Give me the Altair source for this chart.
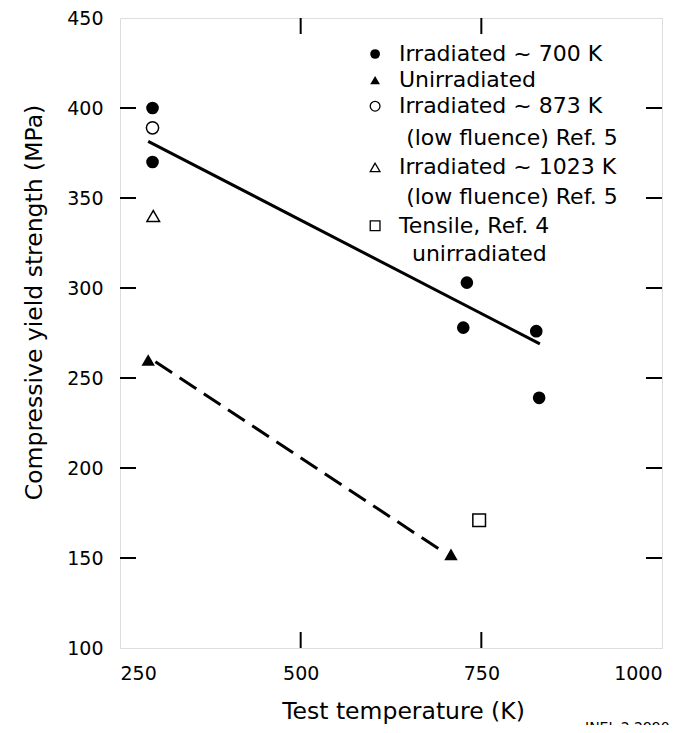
import altair as alt
import pandas as pd

# ---- data ----
irr700_temp = [295, 295, 725, 730, 826, 830]
irr700_mpa = [400, 370, 278, 303, 276, 239]
unirr_temp = [289, 708]
unirr_mpa = [260, 152]
irr873_temp = [295]
irr873_mpa = [389]
irr1023_temp = [296]
irr1023_mpa = [340]
tensile_temp = [747]
tensile_mpa = [171]
fit_irr_temp = [289, 831]
fit_irr_mpa = [381.5, 269]
fit_unirr_temp = [299, 695]
fit_unirr_mpa = [259, 154]

x_tick_labels = [250, 500, 750, 1000]
y_tick_labels = [100, 150, 200, 250, 300, 350, 400, 450]
x_inner_ticks = [500, 750]
y_inner_ticks = [150, 200, 250, 300, 350, 400]

legend_labels = ["Irradiated ~ 700 K", "Unirradiated", "Irradiated ~ 873 K",
                 "(low fluence) Ref. 5", "Irradiated ~ 1023 K", "(low fluence) Ref. 5",
                 "Tensile, Ref. 4", "unirradiated"]
legend_text_temp = [636, 636, 636, 646, 636, 646, 636, 654]
legend_row_mpa = [430.0, 415.5, 401.0, 383.2, 367.0, 350.3, 334.6, 319.0]
legend_sym_temp = 603
legend_sym_rows = [0, 1, 2, 4, 6]
legend_sym_shapes = ["circle", "triangle-up", "circle", "triangle-up", "square"]
legend_sym_filled = [True, True, False, False, False]

W, H = 542, 630
FONT = "DejaVu Sans"

xs = alt.Scale(domain=[250, 1000], nice=False, zero=False)
ys = alt.Scale(domain=[100, 450], nice=False, zero=False)

x_axis = alt.Axis(values=x_tick_labels, format="d", ticks=False, tickSize=0, domain=False, grid=False,
                  labelFont=FONT, labelFontSize=19, labelColor="black", labelPadding=16,
                  title="Test temperature (K)", titleFont=FONT, titleFontSize=23.5,
                  titleFontWeight="normal", titleColor="black", titlePadding=16, titleX=283)
y_axis = alt.Axis(values=y_tick_labels, ticks=False, tickSize=0, domain=False, grid=False,
                  labelFont=FONT, labelFontSize=19, labelColor="black", labelPadding=17,
                  title="Compressive yield strength (MPa)", titleFont=FONT, titleFontSize=23.5,
                  titleFontWeight="normal", titleColor="black", titlePadding=20, titleY=284)


def pts(temp, mpa):
    return pd.DataFrame({"T": temp, "S": mpa})


def enc(chart, axes=False):
    if axes:
        return chart.encode(x=alt.X("T:Q", scale=xs, axis=x_axis), y=alt.Y("S:Q", scale=ys, axis=y_axis))
    return chart.encode(x=alt.X("T:Q", scale=xs), y=alt.Y("S:Q", scale=ys))


layers = []

# fitted lines
layers.append(enc(alt.Chart(pts(fit_irr_temp, fit_irr_mpa)).mark_line(color="black", strokeWidth=3), axes=True))
layers.append(enc(alt.Chart(pts(fit_unirr_temp, fit_unirr_mpa)).mark_line(
    color="black", strokeWidth=3, strokeDash=[20, 9])))

# data points
layers.append(enc(alt.Chart(pts(irr700_temp, irr700_mpa)).mark_point(
    shape="circle", filled=True, size=160, color="black", opacity=1)))
layers.append(enc(alt.Chart(pts(unirr_temp, unirr_mpa)).mark_point(
    shape="triangle-up", filled=True, size=180, color="black", opacity=1)))
layers.append(enc(alt.Chart(pts(irr873_temp, irr873_mpa)).mark_point(
    shape="circle", filled=False, size=150, color="black", strokeWidth=1.5, opacity=1)))
layers.append(enc(alt.Chart(pts(irr1023_temp, irr1023_mpa)).mark_point(
    shape="triangle-up", filled=False, size=160, color="black", strokeWidth=1.5, opacity=1)))
layers.append(enc(alt.Chart(pts(tensile_temp, tensile_mpa)).mark_point(
    shape="square", filled=False, size=160, color="black", strokeWidth=1.5, opacity=1)))

# inward tick marks on all four sides
yt = pd.DataFrame({"S": y_inner_ticks})
xt = pd.DataFrame({"T": x_inner_ticks})
layers.append(alt.Chart(yt).mark_rule(color="black", strokeWidth=2).encode(
    y=alt.Y("S:Q", scale=ys), x=alt.value(0), x2=alt.value(16)))
layers.append(alt.Chart(yt).mark_rule(color="black", strokeWidth=2).encode(
    y=alt.Y("S:Q", scale=ys), x=alt.value(W - 16), x2=alt.value(W)))
layers.append(alt.Chart(xt).mark_rule(color="black", strokeWidth=2).encode(
    x=alt.X("T:Q", scale=xs), y=alt.value(H - 16), y2=alt.value(H)))
layers.append(alt.Chart(xt).mark_rule(color="black", strokeWidth=2).encode(
    x=alt.X("T:Q", scale=xs), y=alt.value(0), y2=alt.value(16)))

# in-plot legend
leg_text = pd.DataFrame({"T": legend_text_temp, "S": legend_row_mpa, "label": legend_labels})
layers.append(alt.Chart(leg_text).mark_text(
    align="left", baseline="middle", font=FONT, fontSize=22, color="black").encode(
    x=alt.X("T:Q", scale=xs), y=alt.Y("S:Q", scale=ys), text="label:N"))
for r, shp, fl in zip(legend_sym_rows, legend_sym_shapes, legend_sym_filled):
    d = pts([legend_sym_temp], [legend_row_mpa[r]])
    layers.append(enc(alt.Chart(d).mark_point(
        shape=shp, filled=fl, size=95, color="black", strokeWidth=1.3, opacity=1)))

# figure id (cut off at the bottom of the page)
layers.append(alt.Chart(pd.DataFrame({"t": ["INEL 2 2990"]})).mark_text(
    align="left", baseline="top", font=FONT, fontSize=14, color="black").encode(
    text="t:N", x=alt.value(465), y=alt.value(703)))

chart = alt.layer(*layers).properties(
    width=W, height=H,
    autosize=alt.AutoSizeParams(type="none"),
    padding={"left": 112, "top": 10, "right": 27, "bottom": 77},
).configure_view(stroke="black", strokeWidth=2).configure(background="white")

chart.save("out.html", embed_options={"renderer": "svg", "actions": False})
